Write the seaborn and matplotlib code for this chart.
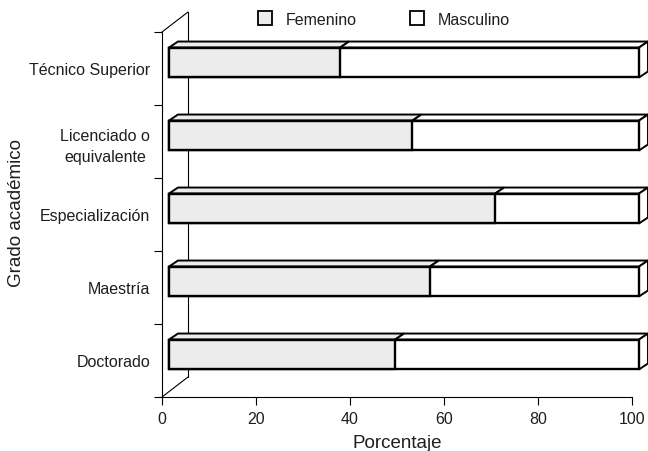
import matplotlib
matplotlib.use("Agg")
import matplotlib.pyplot as plt
from matplotlib.patches import Polygon, Patch
import seaborn as sns
import pandas as pd

categorias = ["Técnico Superior", "Licenciado o\nequivalente", "Especialización", "Maestría", "Doctorado"]
femenino = [36.4, 51.8, 69.4, 55.5, 48.1]
masculino = [100 - v for v in femenino]
x_ticks = [0, 20, 40, 60, 80, 100]

GRAY = "#ebeceb"
FONT = "Liberation Sans"
TXT = "#1e1e1e"

sns.set_theme(style="white")
plt.rcParams["font.family"] = [FONT, "DejaVu Sans"]
plt.rcParams["text.color"] = TXT
plt.rcParams["axes.labelcolor"] = TXT
plt.rcParams["xtick.labelcolor"] = TXT
plt.rcParams["ytick.labelcolor"] = TXT

fig = plt.figure(figsize=(6.48, 4.52), dpi=100)
W, H = 648, 452
ax = fig.add_axes([162 / W, (452 - 398) / H, 470 / W, 365 / H])

df = pd.DataFrame({"cat": categorias, "fem": femenino,
                   "total": [f + m for f, m in zip(femenino, masculino)]})

sns.barplot(data=df, y="cat", x="total", color="white", edgecolor="black",
            linewidth=1.7, width=0.41, orient="h", ax=ax, saturation=1, zorder=3)
sns.barplot(data=df, y="cat", x="fem", color=GRAY, edgecolor="black",
            linewidth=1.7, width=0.41, orient="h", ax=ax, saturation=1, zorder=4)

ax.set_xlim(0, 100)
ax.set_ylim(4.5, -0.5)

# pixel -> data conversion
ppx = 470 / 100.0
ppy = 365 / 5.0
fdx, fdy = 7 / ppx, -6 / ppy      # front-face offset
ddx, ddy = 9 / ppx, -6 / ppy      # depth of bars

n = len(categorias)
patches = list(ax.patches)
tot_p = patches[:n]
fem_p = patches[n:2 * n]
for p in patches:
    p.set_x(p.get_x() + fdx)
    p.set_y(p.get_y() + fdy)
    p.set_clip_on(False)
    p.set_joinstyle("miter")

for pt, pf in zip(tot_p, fem_p):
    x0 = pt.get_x()
    xe = x0 + pt.get_width()
    xf = x0 + pf.get_width()
    yt = pt.get_y()
    yb = yt + pt.get_height()
    faces = [
        ([(x0, yt), (xf, yt), (xf + ddx, yt + ddy), (x0 + ddx, yt + ddy)], GRAY),
        ([(xf, yt), (xe, yt), (xe + ddx, yt + ddy), (xf + ddx, yt + ddy)], "white"),
        ([(xe, yt), (xe, yb), (xe + ddx, yb + ddy), (xe + ddx, yt + ddy)], "white"),
    ]
    for verts, c in faces:
        ax.add_patch(Polygon(verts, closed=True, facecolor=c, edgecolor="black",
                             linewidth=1.4, zorder=2.5, clip_on=False, joinstyle="miter"))

# back wall and floor edges
wx, wy = 26 / 470, 20 / 365
ax.plot([wx, wx], [wy, 1 + wy], color="black", lw=0.8, transform=ax.transAxes,
        clip_on=False, zorder=1)
ax.plot([0, wx], [1, 1 + wy], color="black", lw=0.8, transform=ax.transAxes,
        clip_on=False, zorder=1)
ax.plot([0, wx], [0, wy], color="black", lw=0.8, transform=ax.transAxes,
        clip_on=False, zorder=1)

for s in ["top", "right"]:
    ax.spines[s].set_visible(False)
for s in ["left", "bottom"]:
    ax.spines[s].set_color("black")
    ax.spines[s].set_linewidth(0.8)

ax.set_xticks(x_ticks)
ax.set_xticklabels([str(t) for t in x_ticks], fontsize=11.5)
ax.tick_params(axis="x", direction="out", length=6, width=0.8, color="black",
               bottom=True, pad=4)
ax.set_yticks(range(n))
ax.set_yticklabels(categorias, fontsize=11.5, multialignment="center", linespacing=1.5)
ax.tick_params(axis="y", which="major", length=0, pad=8.5)
ax.set_yticks([i - 0.5 for i in range(n + 1)], minor=True)
ax.tick_params(axis="y", which="minor", direction="out", length=6, width=0.8,
               color="black", left=True)

ax.set_xlabel("Porcentaje", fontsize=13.5, labelpad=6)
ax.set_ylabel("Grado académico", fontsize=13.5, va="center")
ax.yaxis.set_label_coords((17 - 162) / 470, (398 - 213) / 365)

handles = [Patch(facecolor=GRAY, edgecolor="black", linewidth=1.3),
           Patch(facecolor="white", edgecolor="black", linewidth=1.3)]
fig.legend(handles, ["Femenino", "Masculino"], loc="center left",
           bbox_to_anchor=(258 / W, 1 - 20 / H), ncol=2, frameon=False,
           fontsize=11.5, handlelength=0.9, handleheight=0.9, columnspacing=3.3,
           handletextpad=0.85, borderpad=0, borderaxespad=0)

fig.savefig("out.png", dpi=100)
